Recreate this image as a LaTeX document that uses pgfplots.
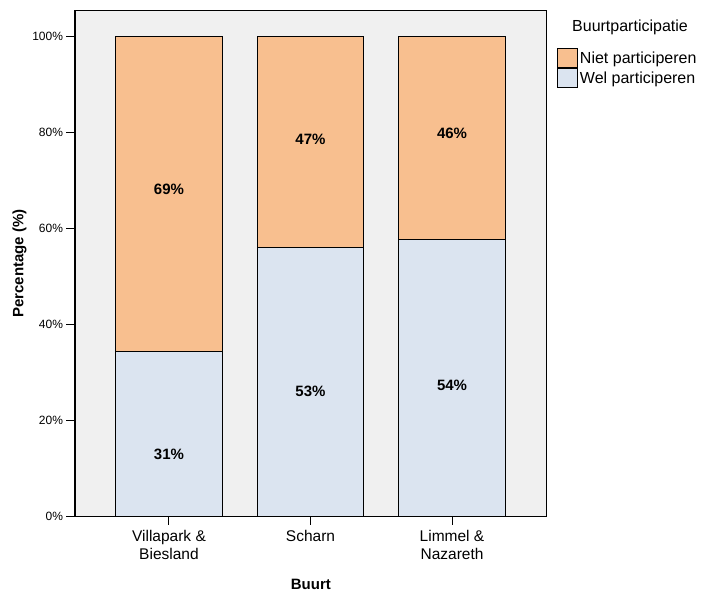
\documentclass[border=0pt]{standalone}
\usepackage{pgfplots}
\pgfplotsset{compat=1.18}
\usepackage{fontspec}
\setmainfont{Liberation Sans}
\definecolor{niet}{RGB}{248,191,143}
\definecolor{wel}{RGB}{219,228,240}
\definecolor{bg}{RGB}{240,240,240}
\pgfplotsset{commonbox/.style={
  at={(0pt,0pt)}, anchor=south west,
  scale only axis, width=471.7pt, height=505.8pt,
  xmin=-0.664, xmax=2.669, ymin=0, ymax=105.3}}
\begin{document}
\begin{tikzpicture}
\useasboundingbox (-75pt,-74.5pt) rectangle (627pt,516.5pt);
\begin{axis}[
  commonbox,
  ybar stacked, bar width=0.75,
  axis background/.style={fill=bg},
  axis line style={black, line width=1.1pt},
  xtick={0,1,2},
  xticklabels={{Villapark \&\\Biesland},Scharn,{Limmel \&\\Nazareth}},
  xticklabel style={align=center, font=\fontsize{15.5}{18}\selectfont, yshift=-2pt},
  ytick={0,20,40,60,80,100},
  yticklabel={\pgfmathprintnumber{\tick}\%},
  yticklabel style={font=\fontsize{12}{14}\selectfont},
  /pgf/number format/assume math mode=true,
  tick align=outside, major tick length=8.5pt,
  tick style={black, line width=1pt},
  xtick pos=bottom, ytick pos=left,
  xlabel={\bfseries Buurt},
  ylabel={\bfseries Percentage (\%)},
  xlabel style={at={(axis description cs:0.5,-0.1335)}, anchor=center, font=\fontsize{15}{18}\selectfont},
  ylabel style={at={(axis description cs:-0.1177,0.5)}, anchor=center, font=\fontsize{15}{18}\selectfont},
  legend style={at={(1.0218,0.9263)}, anchor=north west, draw=none, fill=none,
    inner sep=0pt, row sep=0.5pt, font=\fontsize{16}{18}\selectfont,
    cells={anchor=west}},
  legend image code/.code={\draw[#1, draw=black, line width=0.8pt] (0pt,-9.5pt) rectangle (20pt,9.5pt);},
  reverse legend,
]
\addplot[fill=wel, draw=black, line width=0.9pt] coordinates {(0,34.4) (1,56.0) (2,57.65)};
\addplot[fill=niet, draw=black, line width=0.9pt] coordinates {(0,65.6) (1,44.0) (2,42.35)};
\legend{Wel participeren, Niet participeren}
\end{axis}
\begin{axis}[
  commonbox, hide axis, clip=false,
]
\addplot[draw=none, mark=none, nodes near coords, point meta=explicit symbolic,
  nodes near coords style={anchor=center, font=\bfseries\fontsize{15}{18}\selectfont, text=black}]
  coordinates {(0,13.0) [31\%] (0,68.2) [69\%] (1,26.1) [53\%] (1,78.6) [47\%] (2,27.2) [54\%] (2,79.8) [46\%]};
\node[font=\fontsize{16}{18}\selectfont, text=black] at (rel axis cs:1.1766,0.9678) {Buurtparticipatie};
\end{axis}
\end{tikzpicture}
\end{document}
